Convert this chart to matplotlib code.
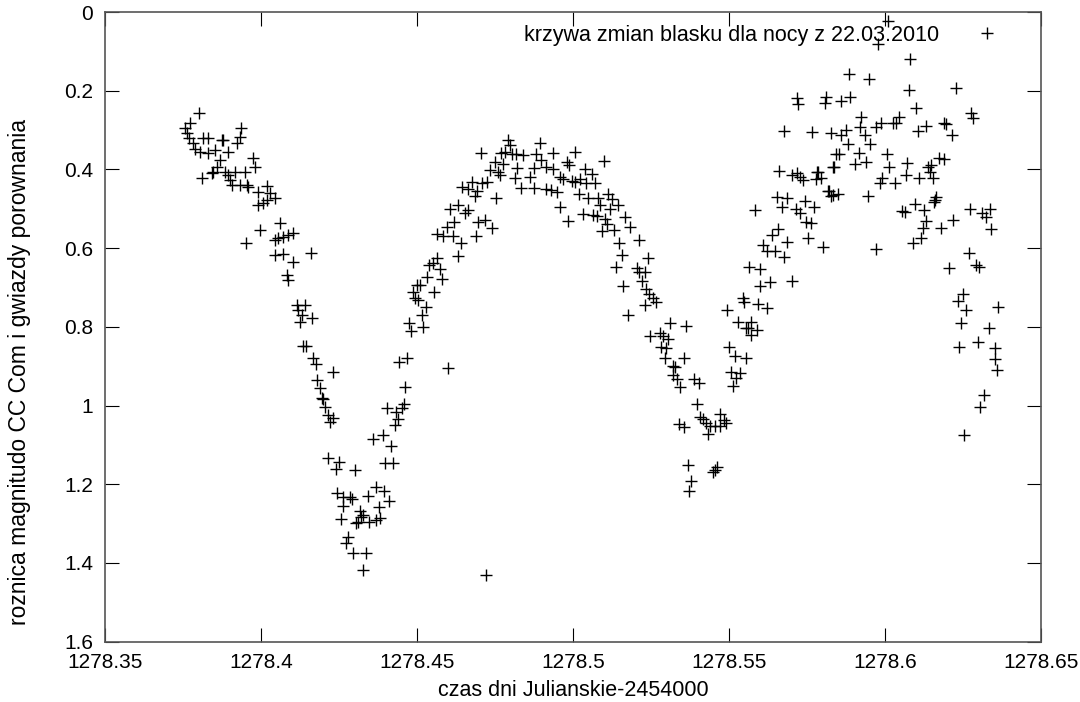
import matplotlib
matplotlib.use("Agg")
import matplotlib.pyplot as plt
from matplotlib.ticker import FixedLocator

plt.rcParams['font.family'] = ['Liberation Sans', 'DejaVu Sans']

# Julian date (minus 2454000) and magnitude difference
jd = [
    1278.3801, 1278.3771, 1278.3755, 1278.3761, 1278.3769, 1278.3782, 1278.3787, 1278.3803,
    1278.3814, 1278.3830, 1278.3830, 1278.3851, 1278.3873, 1278.3878, 1278.3894, 1278.3921,
    1278.3931, 1278.3935, 1278.3867, 1278.3857, 1278.3846, 1278.3841, 1278.3809, 1278.3883,
    1278.3894, 1278.3899, 1278.3915, 1278.3947, 1278.3905, 1278.3931, 1278.3953, 1278.3958,
    1278.3974, 1278.3979, 1278.3990, 1278.4017, 1278.4028, 1278.4044, 1278.4017, 1278.4006,
    1278.3990, 1278.3996, 1278.4060, 1278.4044, 1278.4054, 1278.4070, 1278.4086, 1278.4102,
    1278.3951, 1278.4044, 1278.4070, 1278.4102, 1278.4081, 1278.4086, 1278.4113, 1278.4140,
    1278.4158, 1278.4118, 1278.4129, 1278.4164, 1278.4124, 1278.4134, 1278.4143, 1278.4166,
    1278.4175, 1278.4230, 1278.4179, 1278.4188, 1278.4193, 1278.4198, 1278.4204, 1278.4214,
    1278.4230, 1278.4220,
    1278.4498, 1278.4485, 1278.4492, 1278.4503, 1278.4474, 1278.4479, 1278.4442, 1278.4468,
    1278.4460, 1278.4404, 1278.4431, 1278.4450, 1278.4457, 1278.4439, 1278.4428, 1278.4389,
    1278.4359, 1278.4415, 1278.4214, 1278.4250, 1278.4239, 1278.4300, 1278.4396, 1278.4423,
    1278.4243, 1278.4263, 1278.4284, 1278.4290, 1278.4261, 1278.4255, 1278.4343, 1278.4367,
    1278.4393, 1278.4410, 1278.4377, 1278.4316, 1278.4327, 1278.4321, 1278.4311, 1278.4303,
    1278.4346, 1278.4367, 1278.4382, 1278.4279, 1278.4271, 1278.4295, 1278.4335, 1278.4325,
    1278.4791, 1278.4796, 1278.4895, 1278.4703, 1278.4770, 1278.4781, 1278.4805, 1278.4818,
    1278.4839, 1278.4882, 1278.4898, 1278.4912, 1278.4749, 1278.4775, 1278.4733, 1278.4759,
    1278.4765, 1278.4820, 1278.4813, 1278.4861, 1278.4874, 1278.4831, 1278.4874, 1278.4914,
    1278.4674, 1278.4709, 1278.4724, 1278.4642, 1278.4663, 1278.4692, 1278.4685, 1278.4752,
    1278.4604, 1278.4631, 1278.4663, 1278.4653, 1278.4617, 1278.4596, 1278.4695, 1278.4717,
    1278.4740, 1278.4562, 1278.4583, 1278.4613, 1278.4688, 1278.4640, 1278.4631, 1278.4562,
    1278.4538, 1278.4549, 1278.4572, 1278.4530, 1278.4578, 1278.4508, 1278.4553, 1278.4528,
    1278.4514, 1278.4519, 1278.4599,
    1278.4936, 1278.5005, 1278.5098, 1278.4936, 1278.4979, 1278.4987, 1278.5037, 1278.5059,
    1278.4957, 1278.4968, 1278.4995, 1278.5005, 1278.5021, 1278.5040, 1278.5069, 1278.4930,
    1278.4947, 1278.5019, 1278.5048, 1278.5080, 1278.5112, 1278.5123, 1278.5085, 1278.5144,
    1278.4957, 1278.5117, 1278.5030, 1278.5064, 1278.5077, 1278.5101, 1278.4984, 1278.5165,
    1278.5107, 1278.5181, 1278.5091, 1278.5130, 1278.5147, 1278.5211, 1278.5155, 1278.5240,
    1278.5137, 1278.5203, 1278.5211, 1278.5229, 1278.5219, 1278.5160, 1278.5235, 1278.5243,
    1278.5256, 1278.5267, 1278.5229, 1278.5176, 1278.5310, 1278.5361, 1278.5246, 1278.5278,
    1278.5288, 1278.5304, 1278.5283, 1278.5299, 1278.5294, 1278.5354, 1278.5320, 1278.5326,
    1278.5320, 1278.5333, 1278.5344, 1278.5387, 1278.5404, 1278.5397, 1278.5406, 1278.5416,
    1278.5425, 1278.5438, 1278.5454, 1278.5470, 1278.5472, 1278.5483, 1278.5489, 1278.5432,
    1278.5339, 1278.5354, 1278.5368, 1278.5379, 1278.5371, 1278.5448, 1278.5461, 1278.5454,
    1278.5543, 1278.5547, 1278.5493, 1278.5529, 1278.5555, 1278.5500, 1278.5518, 1278.5553,
    1278.5507, 1278.5534, 1278.5521, 1278.5511,
    1278.5660, 1278.5700, 1278.5716, 1278.5726, 1278.5737, 1278.5782, 1278.5778, 1278.5796,
    1278.5835, 1278.5817, 1278.5833, 1278.5652, 1278.5686, 1278.5668, 1278.5713, 1278.5742,
    1278.5771, 1278.5726, 1278.5582, 1278.5748, 1278.5761, 1278.5657, 1278.5636, 1278.5684,
    1278.5753, 1278.5801, 1278.5609, 1278.5620, 1278.5646, 1278.5675, 1278.5564, 1278.5598,
    1278.5630, 1278.5600, 1278.5700, 1278.5593, 1278.5620, 1278.5571, 1278.5561, 1278.5588,
    1278.5571,
    1278.6009, 1278.5977, 1278.6081, 1278.5884, 1278.5948, 1278.6077, 1278.5810, 1278.5806,
    1278.5860, 1278.5889, 1278.6098, 1278.5924, 1278.6045, 1278.6036, 1278.6025, 1278.5988,
    1278.5970, 1278.5919, 1278.5767, 1278.5825, 1278.5860, 1278.5876, 1278.5935, 1278.6105,
    1278.6132, 1278.5881, 1278.5953, 1278.5842, 1278.5852, 1278.5916, 1278.6006, 1278.5833,
    1278.5903, 1278.5938, 1278.6013, 1278.6070, 1278.6138, 1278.5785, 1278.5991, 1278.5983,
    1278.6031, 1278.6066, 1278.6109, 1278.6143, 1278.6154, 1278.5820, 1278.5828, 1278.5849,
    1278.5945, 1278.5972, 1278.6055, 1278.6063, 1278.6095, 1278.6124, 1278.6130, 1278.6088,
    1278.6116, 1278.6159, 1278.5717, 1278.5720, 1278.5675,
    1278.6226, 1278.6277, 1278.6282, 1278.6188, 1278.6196, 1278.6216, 1278.6173, 1278.6188,
    1278.6148, 1278.6162, 1278.6156, 1278.6120, 1278.6180, 1278.6218, 1278.6271, 1278.6312,
    1278.6325, 1278.6335, 1278.6341, 1278.6269, 1278.6205, 1278.6290, 1278.6301, 1278.6250,
    1278.6234, 1278.6261, 1278.6362, 1278.6245, 1278.6333, 1278.6237, 1278.6298, 1278.6351,
    1278.6354, 1278.6359, 1278.6316, 1278.6305, 1278.6253,
    1278.4720,
]

dmag = [
    0.257, 0.283, 0.296, 0.308, 0.321, 0.334, 0.349, 0.355,
    0.321, 0.321, 0.358, 0.351, 0.325, 0.325, 0.355, 0.334,
    0.317, 0.296, 0.376, 0.393, 0.406, 0.410, 0.423, 0.406,
    0.414, 0.427, 0.406, 0.406, 0.440, 0.440, 0.440, 0.445,
    0.372, 0.393, 0.457, 0.442, 0.461, 0.473, 0.478, 0.486,
    0.490, 0.554, 0.537, 0.579, 0.575, 0.571, 0.567, 0.562,
    0.586, 0.618, 0.615, 0.635, 0.668, 0.681, 0.745, 0.745,
    0.612, 0.757, 0.770, 0.778, 0.787, 0.848, 0.848, 0.878,
    0.895, 0.914, 0.935, 0.955, 0.980, 0.984, 1.003, 1.024,
    1.031, 1.041,
    0.694, 0.711, 0.728, 0.732, 0.790, 0.810, 0.890, 0.880,
    0.952, 1.007, 1.016, 1.007, 0.996, 1.033, 1.050, 1.075,
    1.086, 1.103, 1.134, 1.143, 1.162, 1.164, 1.145, 1.145,
    1.222, 1.233, 1.233, 1.238, 1.255, 1.289, 1.230, 1.208,
    1.217, 1.242, 1.259, 1.267, 1.278, 1.283, 1.295, 1.299,
    1.295, 1.291, 1.285, 1.333, 1.349, 1.374, 1.374, 1.418,
    0.325, 0.338, 0.334, 0.359, 0.359, 0.355, 0.361, 0.361,
    0.363, 0.361, 0.376, 0.395, 0.380, 0.385, 0.402, 0.406,
    0.414, 0.397, 0.423, 0.419, 0.397, 0.448, 0.448, 0.451,
    0.431, 0.434, 0.431, 0.444, 0.451, 0.454, 0.468, 0.473,
    0.501, 0.490, 0.503, 0.512, 0.533, 0.546, 0.533, 0.529,
    0.550, 0.564, 0.569, 0.569, 0.569, 0.586, 0.620, 0.626,
    0.643, 0.639, 0.654, 0.673, 0.679, 0.694, 0.712, 0.749,
    0.770, 0.801, 0.905,
    0.359, 0.355, 0.378, 0.400, 0.380, 0.390, 0.400, 0.412,
    0.419, 0.425, 0.429, 0.431, 0.425, 0.435, 0.434, 0.452,
    0.457, 0.463, 0.473, 0.473, 0.463, 0.476, 0.490, 0.490,
    0.496, 0.501, 0.514, 0.516, 0.518, 0.527, 0.530, 0.522,
    0.539, 0.547, 0.556, 0.554, 0.586, 0.579, 0.618, 0.626,
    0.647, 0.651, 0.660, 0.660, 0.683, 0.696, 0.705, 0.717,
    0.728, 0.736, 0.745, 0.770, 0.791, 0.798, 0.823, 0.816,
    0.823, 0.830, 0.851, 0.855, 0.878, 0.880, 0.900, 0.903,
    0.922, 0.933, 0.954, 0.933, 0.942, 0.996, 1.028, 1.035,
    1.044, 1.052, 1.051, 1.052, 1.022, 1.037, 1.044, 1.072,
    1.047, 1.054, 1.151, 1.191, 1.217, 1.168, 1.157, 1.164,
    0.728, 0.736, 0.757, 0.787, 0.804, 0.851, 0.874, 0.880,
    0.914, 0.918, 0.931, 0.950,
    0.403, 0.414, 0.410, 0.419, 0.427, 0.406, 0.425, 0.423,
    0.395, 0.454, 0.465, 0.471, 0.473, 0.495, 0.501, 0.480,
    0.496, 0.512, 0.503, 0.533, 0.537, 0.552, 0.567, 0.584,
    0.575, 0.596, 0.592, 0.607, 0.607, 0.623, 0.649, 0.654,
    0.685, 0.696, 0.683, 0.742, 0.753, 0.787, 0.804, 0.808,
    0.821,
    0.022, 0.082, 0.120, 0.158, 0.169, 0.198, 0.215, 0.230,
    0.225, 0.215, 0.245, 0.268, 0.266, 0.281, 0.283, 0.281,
    0.293, 0.293, 0.304, 0.307, 0.313, 0.300, 0.313, 0.302,
    0.290, 0.335, 0.335, 0.361, 0.361, 0.358, 0.361, 0.393,
    0.386, 0.380, 0.393, 0.384, 0.393, 0.406, 0.423, 0.434,
    0.434, 0.414, 0.423, 0.406, 0.423, 0.454, 0.468, 0.463,
    0.468, 0.603, 0.505, 0.507, 0.488, 0.503, 0.530, 0.586,
    0.575, 0.478, 0.219, 0.234, 0.302,
    0.194, 0.257, 0.270, 0.281, 0.285, 0.313, 0.372, 0.374,
    0.389, 0.471, 0.482, 0.550, 0.550, 0.529, 0.501, 0.512,
    0.520, 0.501, 0.552, 0.612, 0.651, 0.643, 0.647, 0.717,
    0.734, 0.757, 0.749, 0.791, 0.804, 0.851, 0.838, 0.855,
    0.883, 0.910, 0.973, 1.003, 1.075,
    1.431,
]

x_ticks = [1278.35, 1278.40, 1278.45, 1278.50, 1278.55, 1278.60, 1278.65]
x_tick_labels = ["1278.35", "1278.4", "1278.45", "1278.5", "1278.55", "1278.6", "1278.65"]
y_ticks = [0, 0.2, 0.4, 0.6, 0.8, 1.0, 1.2, 1.4, 1.6]
y_tick_labels = ["0", "0.2", "0.4", "0.6", "0.8", "1", "1.2", "1.4", "1.6"]

legend_label = "krzywa zmian blasku dla nocy z 22.03.2010"
x_label = "czas dni Julianskie-2454000"
y_label = "roznica magnitudo CC Com i gwiazdy porownania"

W, H = 1080, 702
fig = plt.figure(figsize=(W / 100, H / 100), dpi=100)
ax = fig.add_axes([0.0976, 0.0860, 0.8663, 0.8969])

ax.plot(jd, dmag, linestyle='none', marker='+', color='black',
        markersize=8, markeredgewidth=1.0, label=legend_label)

ax.set_xlim(1278.35, 1278.65)
ax.set_ylim(1.6, 0.0)
ax.xaxis.set_major_locator(FixedLocator(x_ticks))
ax.set_xticklabels(x_tick_labels)
ax.yaxis.set_major_locator(FixedLocator(y_ticks))
ax.set_yticklabels(y_tick_labels)

fs = 15
ax.tick_params(axis='both', which='major', direction='in', length=10, width=0.8,
               top=True, right=True, labelsize=fs, color='black')
ax.tick_params(axis='x', pad=8)
ax.tick_params(axis='y', pad=9)
for s in ax.spines.values():
    s.set_color('#555555')
    s.set_linewidth(1.2)

ax.set_xlabel(x_label, fontsize=15.5, labelpad=6)
fig.text(20 / W, 1 - 372 / H, y_label, fontsize=16.5, rotation=90,
         ha='center', va='center')

leg = ax.legend(loc='upper right', bbox_to_anchor=(1008.5 / W, 0.965),
                bbox_transform=fig.transFigure, frameon=False, markerfirst=False,
                fontsize=15.5, handlelength=2.0, handletextpad=1.2,
                borderpad=0, borderaxespad=0)

fig.savefig("out.png", dpi=100)
